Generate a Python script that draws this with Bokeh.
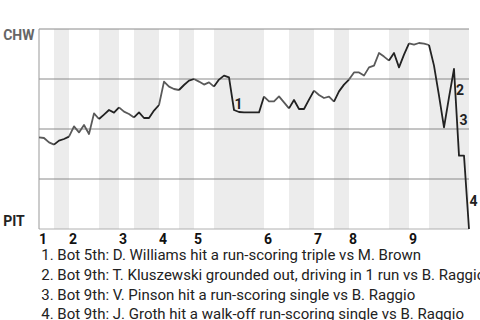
from bokeh.plotting import figure
from bokeh.models import Range1d
from bokeh.core.properties import value
from bokeh.embed import file_html
from bokeh.resources import INLINE

# CHW win probability (%) after each event
win_prob = [45.8, 45.5, 43.3, 42.2, 44.2, 45.0, 46.2, 51.3, 48.3, 52.0,
            47.5, 57.8, 55.0, 57.2, 59.5, 58.2, 60.8, 58.7, 57.5, 55.8,
            58.3, 55.5, 55.5, 59.2, 62.0, 73.7, 71.2, 70.0, 69.5, 72.0,
            74.2, 75.0, 73.7, 72.2, 73.3, 71.2, 74.7, 76.7, 75.8, 59.5,
            58.5, 58.3, 58.3, 58.3, 58.3, 66.2, 63.8, 63.8, 66.3, 63.3,
            60.3, 64.5, 60.0, 60.0, 64.7, 69.2, 67.0, 65.5, 66.2, 63.7,
            68.8, 72.2, 74.7, 78.3, 78.3, 76.7, 80.8, 81.7, 88.0, 86.2,
            84.2, 88.0, 80.8, 87.2, 92.8, 92.2, 93.0, 92.7, 92.0, 81.7,
            66.7, 50.8, 65.8, 80.0, 36.7, 36.7, 0.0]

# event index where each half inning begins
top_start = [0, 6, 16, 24, 31, 45, 55, 62, 74]
bot_start = [3, 12, 19, 28, 35, 50, 59, 70, 78]
n_events = 86
inning_labels = ["1", "2", "3", "4", "5", "6", "7", "8", "9"]
grid_levels = [25, 50, 75]

team_top = "CHW"
team_bottom = "PIT"

note_labels = ["1", "2", "3", "4"]
note_x = [39, 83.3, 84, 86]
note_y = [63, 70, 55, 14.5]
note_texts = [
    "1. Bot 5th: D. Williams hit a run-scoring triple vs M. Brown",
    "2. Bot 9th: T. Kluszewski grounded out, driving in 1 run vs B. Raggio",
    "3. Bot 9th: V. Pinson hit a run-scoring single vs B. Raggio",
    "4. Bot 9th: J. Groth hit a walk-off run-scoring single vs B. Raggio",
]

GREY_LINE = "#5a5a5a"
DARK = "#222222"
FONT = value("Roboto")
FS = value("14px")

# layout: 5 px per event, 2 px per win-probability percent; the frame fills the canvas
X_LEFT, PX_X = 38.5, 5.0
Y_TOP, PX_Y = 28.5, 2.0
W, H = 480, 320
x0 = -X_LEFT / PX_X
y1 = 100 + Y_TOP / PX_Y
y_base = 0  # bottom edge of chart area


def below(px):
    """data y for a text centre px pixels below the chart's bottom edge"""
    return y_base - px / PX_Y


p = figure(width=W, height=H, output_backend="svg", toolbar_location=None,
           x_range=Range1d(x0, x0 + W / PX_X), y_range=Range1d(y1 - H / PX_Y, y1),
           min_border=0)
p.axis.visible = False
p.grid.visible = False
p.outline_line_color = None
p.background_fill_color = "white"
p.border_fill_color = "white"

# shaded bottom halves
band_right = top_start[1:] + [n_events]
p.quad(left=bot_start, right=band_right, bottom=0, top=100,
       fill_color="#ececec", line_color=None)

# horizontal guides and chart border
p.segment(x0=[0] * len(grid_levels), x1=[n_events] * len(grid_levels),
          y0=grid_levels, y1=grid_levels, line_color="#8a8a8a", line_width=1)
p.segment(x0=[0], x1=[n_events], y0=[100], y1=[100], line_color="#8a8a8a", line_width=1)
p.segment(x0=[0], x1=[n_events], y0=[0], y1=[0], line_color="#b0b0b0", line_width=1)
p.segment(x0=[0], x1=[0], y0=[0], y1=[100], line_color="#999999", line_width=1)

# win probability line, coloured by batting team
bounds = sorted(top_start + bot_start + [n_events])
bot_set = set(bot_start)
for a, b in zip(bounds[:-1], bounds[1:]):
    xs = list(range(a, b + 1))
    ys = win_prob[a:b + 1]
    col = DARK if a in bot_set else GREY_LINE
    p.line(xs, ys, line_color=col, line_width=1.8, line_join="round")

# team labels
p.text(x=[x0 + 2.7 / PX_X], y=[100 - 6 / PX_Y], text=[team_top],
       text_font=FONT, text_font_style="bold", text_font_size=FS,
       text_color="#666666", text_baseline="middle", text_align="left")
p.text(x=[x0 + 2.7 / PX_X], y=[0 + 8 / PX_Y], text=[team_bottom],
       text_font=FONT, text_font_style="bold", text_font_size=FS,
       text_color="#222222", text_baseline="middle", text_align="left")

# inning numbers
p.text(x=[s + 0.8 for s in top_start], y=[below(9)] * len(top_start),
       text=inning_labels, text_font=FONT, text_font_style="bold",
       text_font_size=FS, text_color="#111111",
       text_baseline="middle", text_align="center")

# event markers
p.text(x=note_x, y=note_y, text=note_labels, x_offset=0.5,
       text_font=FONT, text_font_style="bold", text_font_size=FS,
       text_color=DARK, text_baseline="middle", text_align="left")

# event descriptions below the chart
p.text(x=[0.44] * len(note_texts),
       y=[below(26.2 + 19.7 * k) for k in range(len(note_texts))],
       text=note_texts, text_font=FONT, text_font_size=value("15px"),
       text_color=DARK, text_baseline="middle", text_align="left")

open("out.html", "w").write(file_html(p, INLINE))
